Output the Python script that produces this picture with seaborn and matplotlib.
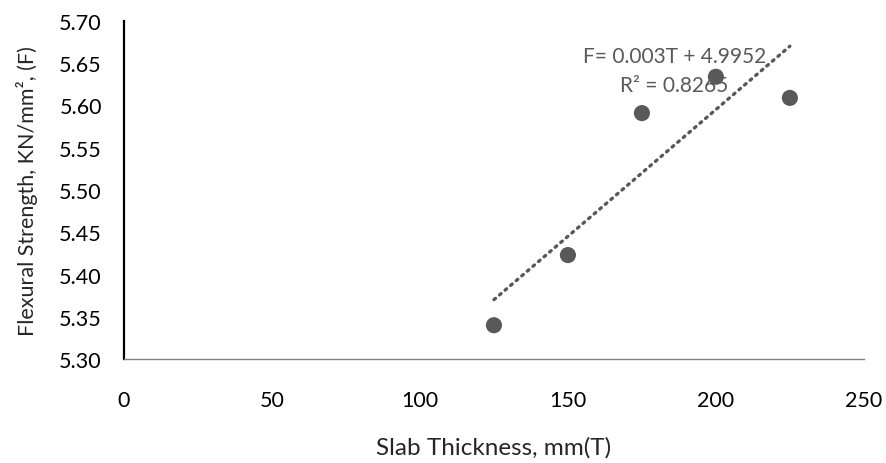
import numpy as np
import pandas as pd
import matplotlib
matplotlib.use("Agg")
import matplotlib.pyplot as plt
import seaborn as sns

# values
thickness = [125, 150, 175, 200, 225]
strength = [5.340, 5.423, 5.591, 5.634, 5.609]
slope = 0.003
intercept = 4.9952
r_squared = 0.8265

x_ticks = [0, 50, 100, 150, 200, 250]
y_ticks = [5.30, 5.35, 5.40, 5.45, 5.50, 5.55, 5.60, 5.65, 5.70]

sns.set_style("white")
plt.rcParams["font.family"] = ["Lato", "DejaVu Sans"]

GREY = "#595959"
FS = 15.5

df = pd.DataFrame({"T": thickness, "F": strength})
trend = pd.DataFrame({"T": [min(thickness), max(thickness)]})
trend["F"] = slope * trend["T"] + intercept

fig = plt.figure(figsize=(8.86, 4.64), dpi=100)
ax = fig.add_axes([0.14, 0.2241, 0.835, 0.7285])

sns.lineplot(data=trend, x="T", y="F", ax=ax, color=GREY, linewidth=2.4,
             linestyle=(0, (0.6, 1.6)), dash_capstyle="round", zorder=2)
sns.scatterplot(data=df, x="T", y="F", ax=ax, color=GREY, s=135,
                edgecolor="none", zorder=3)

ax.set_xlim(0, 250)
ax.set_ylim(5.30, 5.70)
ax.set_xticks(x_ticks)
ax.set_yticks(y_ticks)
ax.set_yticklabels([f"{v:.2f}" for v in y_ticks])
ax.tick_params(axis="both", length=0, labelsize=FS, colors="black")
ax.tick_params(axis="x", pad=22)
ax.tick_params(axis="y", pad=16)

for side in ["top", "right"]:
    ax.spines[side].set_visible(False)
ax.spines["left"].set_color("black")
ax.spines["left"].set_linewidth(1.6)
ax.spines["bottom"].set_color("#808080")
ax.spines["bottom"].set_linewidth(1.0)

ax.set_xlabel("Slab Thickness, mm(T)", fontsize=17.5, labelpad=19)
ax.set_ylabel("Flexural Strength, KN/mm², (F)", fontsize=FS, labelpad=15)

ax.text(186, 5.659, f"F= {slope}T + {intercept}", fontsize=15, color=GREY,
        ha="center", va="center")
ax.text(186, 5.624, f"R² = {r_squared}", fontsize=15, color=GREY,
        ha="center", va="center")

fig.savefig("out.png", dpi=100)
